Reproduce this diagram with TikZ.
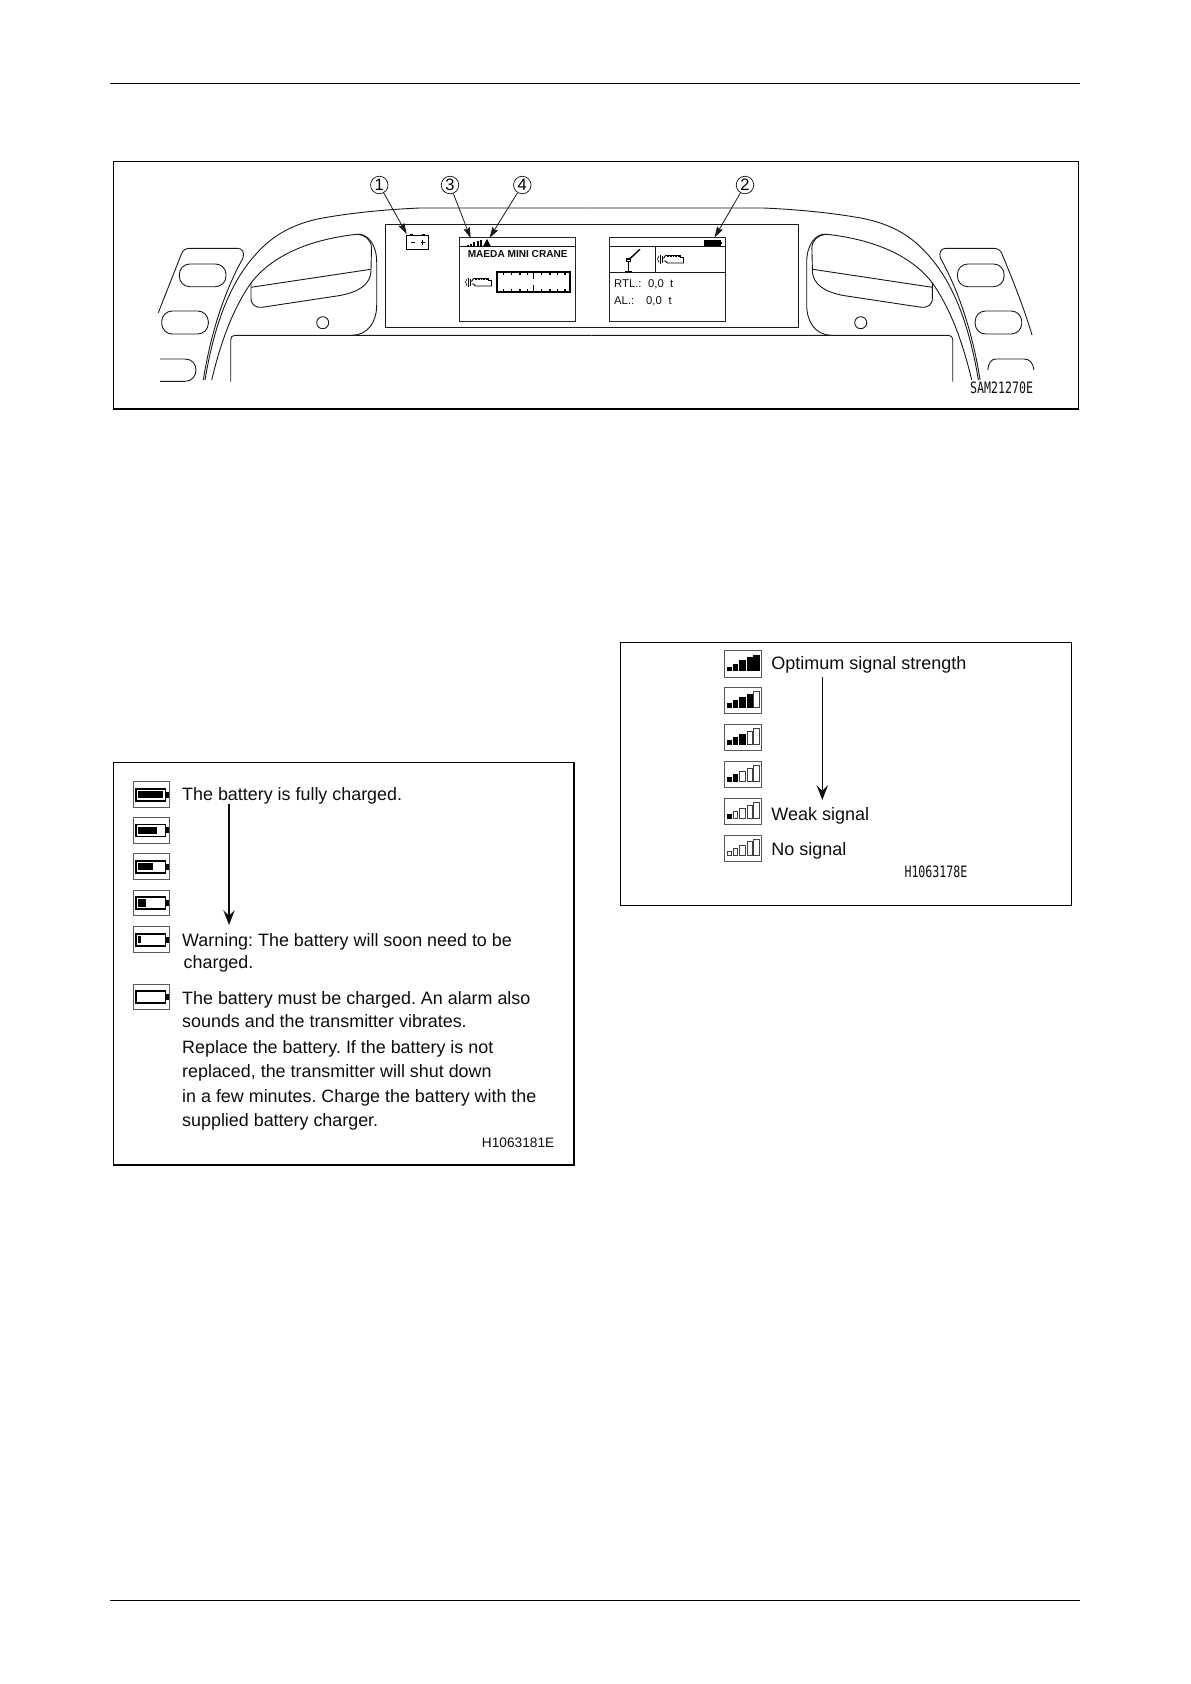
\documentclass[tikz,border=0pt]{standalone}
\usepackage{fontspec}
\setmainfont{Liberation Sans}
\newfontfamily\cadfont[FakeStretch=0.74]{DejaVu Sans Mono}
\usetikzlibrary{arrows.meta,calc}
\frenchspacing
\tikzset{
  txt/.style={inner sep=0pt,anchor=base west,text=black!95,font=\fontsize{#1}{#1}\selectfont},
  bodytext/.style={txt=17.9},
  sigtext/.style={txt=18},
  lcdtext/.style={txt=11.3},
  cadlabel/.style={inner sep=0pt,anchor=base west,text=black!95,font=\cadfont\fontsize{15.7}{16}\selectfont},
  rule/.style={line width=1.3pt,black},
  framebox/.style={draw=black,line width=1pt},
  heavyedge/.style={line width=2pt,black},
  outline/.style={line width=.9pt,black!90,line join=round},
  lcdbox/.style={line width=.9pt,black!85},
  lcdthick/.style={line width=1.5pt,black!90},
  callout/.style={circle,draw=black!90,line width=.75pt,minimum size=17.5pt,inner sep=0pt,text=black,font=\fontsize{16.5}{16.5}\selectfont},
  leader/.style={line width=.8pt,black!90,-{Stealth[length=11pt,width=6.5pt,inset=1.5pt]}},
  bigarrow/.style={line width=1.3pt,black!95,-{Stealth[length=15pt,width=11.5pt,inset=6pt]}},
  iconframe/.style={draw=black!65,line width=.9pt},
  fullbar/.style={fill=black,draw=black,line width=.8pt},
  openbar/.style={draw=black!75,line width=.8pt,fill=white},
  battbody/.style={draw=black,line width=1.6pt},
}
\newcommand{\halfdash}{%
  % outer shell
  \draw[outline] (205,380) .. controls (215,320) and (232,280) .. (256.7,253.3)
     .. controls (275,233) and (296,223.5) .. (320,218.5)
     .. controls (350,213) and (385,209.5) .. (420,208) -- (591.7,208);
  % line joining the pod
  \draw[outline] (203.3,380) .. controls (212,325) and (228,285) .. (243,258)
     .. controls (245,252) and (242,248.3) .. (237.3,248.3) -- (190,248.3)
     .. controls (186,248.3) and (183,250) .. (181.7,253.3);
  % grip
  \draw[outline] (211.7,380) .. controls (220,345) and (232,310) .. (251,283)
     .. controls (270,258) and (305,240) .. (356.7,234.3)
     .. controls (368,233) and (376.7,245) .. (376.7,262) -- (376.7,305)
     .. controls (376.7,322) and (368,335) .. (352,335.3);
  \draw[outline] (251,283) -- (251,298) .. controls (251,305) and (256,308) .. (262,307.3)
     -- (340,295.5) .. controls (358,292) and (371,285) .. (371,270)
     -- (371.5,248) .. controls (371.5,240) and (365,235) .. (358,234.3);
  \draw[outline] (251,287.3) -- (370.7,269.3);
  \draw[outline] (322.7,322.7) circle (6);
  % buttons
  \draw[outline,rounded corners=10.5pt] (179.3,264) rectangle (226,286.7);
  \draw[outline,rounded corners=10.5pt] (161.7,311) rectangle (208.3,334);
  % base
  \draw[outline] (230.7,381.7) -- (230.7,340) .. controls (230.7,337) and (232,335.3) .. (235,335.3) -- (591.7,335.3);
}
\newcommand{\engineicon}[2]{%
  \begin{scope}[shift={(#1,#2)}]
    \draw[line width=.6pt,black] (1.5,2.5) .. controls (-.5,4) and (-.5,7) .. (1.5,9);
    \draw[line width=.6pt,black] (3,1.5) -- (3,10);
    \draw[line width=1.2pt,black] (5,2.5) -- (5,9);
    \draw[line width=.9pt,black] (6,5) -- (8,2) -- (23,2) -- (23,4) -- (26,4) -- (26,9.5) -- (23,9.5) -- (10,9.5) -- (8,7.5) -- (6,7.5);
    \draw[line width=1.5pt,black,dash pattern=on .9pt off .7pt] (9,3) -- (22,3);
  \end{scope}}
\begin{document}
\begin{tikzpicture}[x=1pt,y=-1pt]
\useasboundingbox (0,0) rectangle (1191,1684);
% page rules
\coordinate (rtl) at (110,83.3); \coordinate (rtr) at (1080,83.3);
\coordinate (rbl) at (110,1600.3); \coordinate (rbr) at (1080,1600.3);
\draw[rule] (rtl) -- (rtr);
\draw[rule] (rbl) -- (rbr);

% ===== Top figure =====
\draw[framebox] (113.5,161.5) rectangle (1078,409);
\draw[heavyedge] (113,409.3) -- (1078.5,409.3);
\halfdash
\begin{scope}[xshift=1183.4pt,xscale=-1]
  \halfdash
\end{scope}
% pods: free edges
\draw[outline] (181.7,253.3) -- (158.3,312.7);
\draw[outline] (1001.7,253.3) .. controls (1012,278) and (1024,308) .. (1032,335);
% lower slots
\draw[outline] (160,359) -- (185,359) .. controls (192,359) and (196,364) .. (196,370) .. controls (196,376) and (192,381.3) .. (185,381.3) -- (160,381.3);
\draw[outline] (987.7,370) .. controls (988.5,363) and (991,359) .. (996,359) -- (1024,359) .. controls (1030,359) and (1033,363) .. (1034,370);
% display panel
\draw[outline] (385,224.5) rectangle (798.3,327.3);
% battery warning symbol
\draw[line width=.9pt,black] (406.7,235) rectangle (428.3,249);
\draw[line width=1pt,black] (410,234) -- (413,234) (422,234) -- (425,234);
\draw[line width=.9pt,black] (411,242.5) -- (415,242.5) (420.5,242.5) -- (425,242.5) (422.7,240.2) -- (422.7,244.8);
\coordinate (battsym) at (406.7,234);
% LCD left
\draw[lcdbox] (459.7,237.6) rectangle (575.8,321.7);
\draw[lcdthick] (459.7,246.7) -- (575.8,246.7);
\node[txt=10.1,inner sep=0pt,anchor=base] (lcdtitle) at (517.7,257.5) {\bfseries MAEDA MINI CRANE};
\engineicon{465.5}{276.5}
\draw[line width=2pt,black] (496.7,272.3) rectangle (570,291.7);
\foreach \x in {503.3,511.7,520,527.5,541.7,550,557.3,565}{
  \draw[line width=1.2pt,black] (\x,272.3) -- (\x,275);
  \draw[line width=1.2pt,black] (\x,291.7) -- (\x,289);
}
\draw[line width=1.3pt,black] (533.3,272.3) -- (533.3,278.5) (533.3,291.7) -- (533.3,285);
% signal + warning on LCD left
\foreach \x/\h in {467/1.4,470.2/2.8,473.4/4.4,476.6/5.8,479.8/7}{
  \fill[black] (\x,246.5) rectangle (\x+1.9,246.5-\h);
}
\fill[black] (483,246.5) -- (487,239) -- (491,246.5) -- cycle;
\coordinate (sigsym) at (470.7,238.3);
\coordinate (warnsym) at (489.5,238);
% LCD right
\draw[lcdbox] (609.3,237.6) rectangle (725,321.7);
\draw[lcdthick] (609.3,246.7) -- (725,246.7);
\draw[lcdthick] (609.3,272.7) -- (725,272.7);
\draw[lcdthick] (655.3,246.7) -- (655.3,272.7);
\fill[black] (704,240) rectangle (720.7,246);
\fill[black] (720.7,241.7) rectangle (722,244.3);
\coordinate (battlcd) at (714.5,237.5);
\draw[line width=1.4pt,black] (629,259.5) -- (640,249.3);
\draw[line width=1.1pt,black] (626.5,259) rectangle (630.5,261.5);
\draw[line width=1.2pt,black] (628.5,261) -- (628.5,271.5) (625,271.6) -- (632,271.6);
\engineicon{657.5}{253.5}
\node[lcdtext,anchor=base west] (rtllabel) at (614,287.3) {RTL.:};
\node[lcdtext,anchor=base west] (rtlval) at (648,287.3) {0,0};
\node[lcdtext,anchor=base west] (rtlunit) at (670,287.3) {t};
\node[lcdtext,anchor=base west] (allabel) at (614,304) {AL.:};
\node[lcdtext,anchor=base west] (alval) at (646,304) {0,0};
\node[lcdtext,anchor=base west] (alunit) at (668.3,304) {t};
% callouts
\node[callout] (c1) at (379.3,185) {1};
\node[callout] (c3) at (450,185) {3};
\node[callout] (c4) at (522.3,185) {4};
\node[callout] (c2) at (745,185) {2};
\draw[leader] (c1) -- (battsym);
\draw[leader] (c3) -- (sigsym);
\draw[leader] (c4) -- (warnsym);
\draw[leader] (c2) -- (battlcd);
\node[cadlabel] (sam) at (970,393.5) {SAM21270E};

% ===== Battery panel =====
\draw[framebox] (113.3,762.3) rectangle (574,1164.7);
\draw[line width=1.6pt,black] (113,1164.7) -- (574.5,1164.7) (574,762) -- (574,1165);
\foreach \t/\fx in {781.7/163.3,817.3/157,853.7/153.3,890/146,926.7/141,984/0}{
  \draw[iconframe] (133.3,\t) rectangle (169.3,\t+25.8);
  \draw[battbody] (135.9,\t+7) rectangle (165.5,\t+19);
  \fill[black] (166,\t+10) rectangle (168.6,\t+16);
  \ifdim\fx pt>1pt
    \fill[black] (138.3,\t+9.3) rectangle (\fx,\t+16.7);
  \fi
}
\node[bodytext] (b1) at (182,800) {The battery is fully charged.};
\node[bodytext] (b2) at (182,946) {Warning: The battery will soon need to be};
\node[bodytext] (b3) at (183.5,968.3) {charged.};
\node[bodytext] (b4) at (182,1004.3) {The battery must be charged. An alarm also};
\node[bodytext] (b5) at (182,1027.7) {sounds and the transmitter vibrates.};
\node[bodytext] (b6) at (182,1053.3) {Replace the battery. If the battery is not};
\node[bodytext] (b7) at (182,1077.7) {replaced, the transmitter will shut down};
\node[bodytext] (b8) at (182,1102.3) {in a few minutes. Charge the battery with the};
\node[bodytext] (b9) at (182,1126.7) {supplied battery charger.};
\node[txt=13.7] (hb) at (481.7,1147.7) {H1063181E};
\coordinate (ba) at (229,804); \coordinate (bb) at (229,925);
\draw[bigarrow] (ba) -- (bb);

% ===== Signal panel =====
\draw[framebox] (620.7,642.5) rectangle (1071.8,905);
\foreach \t/\nf in {650.7/5,687.3/4,724.3/3,761.3/2,798.3/1,835/0}{
  \draw[iconframe] (724.3,\t) rectangle (761,\t+26.4);
  \foreach \n/\xa/\xb/\h in {1/3/6.7/3.7,2/9/13.3/6.7,3/15.3/20.7/10,4/22.7/28.3/13.3,5/29.3/35/15.7}{
    \ifnum\n>\nf\relax\def\barsty{openbar}\else\def\barsty{fullbar}\fi
    \path[\barsty] (724.3+\xa,\t+20) rectangle (724.3+\xb,\t+20-\h);
  }
}
\node[sigtext] (s1) at (771.2,669) {Optimum signal strength};
\node[sigtext] (s2) at (771.2,820) {Weak signal};
\node[sigtext] (s3) at (771.2,855) {No signal};
\node[cadlabel] (hs) at (904.3,877.7) {H1063178E};
\coordinate (sa) at (822.3,677.3); \coordinate (sb) at (822.3,800);
\draw[bigarrow] (sa) -- (sb);
\end{tikzpicture}
\end{document}
